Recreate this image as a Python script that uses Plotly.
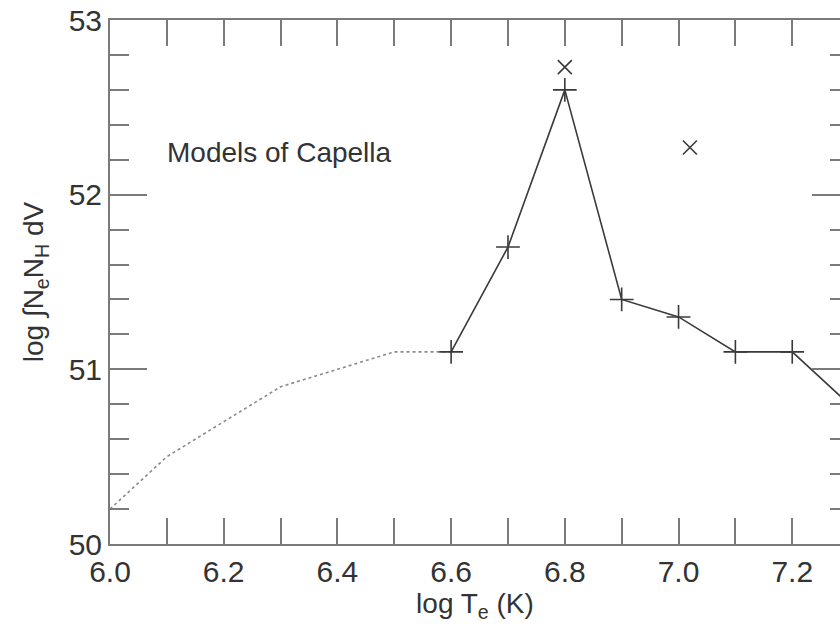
import plotly.graph_objects as go

# Data
model_T = [6.6, 6.7, 6.8, 6.9, 7.0, 7.1, 7.2, 7.3]
model_EM = [51.1, 51.7, 52.6, 51.4, 51.3, 51.1, 51.1, 50.8]
low_T = [6.0, 6.1, 6.2, 6.3, 6.4, 6.5, 6.6]
low_EM = [50.2, 50.5, 50.7, 50.9, 51.0, 51.1, 51.1]
capella_T = [6.8, 7.02]
capella_EM = [52.73, 52.27]
x_tickvals = [6.0, 6.2, 6.4, 6.6, 6.8, 7.0, 7.2]
x_ticktext = ["6.0", "6.2", "6.4", "6.6", "6.8", "7.0", "7.2"]
y_tickvals = [50, 51, 52, 53]

FONT = "Liberation Sans, Arial, Helvetica, sans-serif"
AX = "#7a7a7a"
TXT = "#333333"
LINE = "#3a3a3a"

fig = go.Figure()
fig.add_trace(go.Scatter(x=low_T, y=low_EM, mode="lines",
                         line=dict(color="#8a8a8a", width=1.6, dash="dot"),
                         showlegend=False, hoverinfo="skip"))
fig.add_trace(go.Scatter(x=model_T, y=model_EM, mode="lines+markers",
                         line=dict(color=LINE, width=1.6),
                         marker=dict(symbol="cross-thin", size=17,
                                     line=dict(color=LINE, width=1.6)),
                         showlegend=False))
fig.add_trace(go.Scatter(x=capella_T, y=capella_EM, mode="markers",
                         marker=dict(symbol="x-thin", size=14,
                                     line=dict(color=LINE, width=1.6)),
                         showlegend=False))
# helper empty trace to create right-side tick axis
fig.add_trace(go.Scatter(x=[], y=[], yaxis="y2", showlegend=False))

fig.add_annotation(text="Models of Capella", x=6.097, y=52.24,
                   xref="x", yref="y", xanchor="left", yanchor="middle",
                   showarrow=False, font=dict(family=FONT, size=28, color=TXT))

fig.update_layout(
    width=840, height=638,
    margin=dict(l=110, r=0, t=20, b=94),
    paper_bgcolor="white", plot_bgcolor="white",
    font=dict(family=FONT, size=30, color=TXT),
    xaxis=dict(range=[6.0, 7.284], tickvals=x_tickvals, ticktext=x_ticktext,
               ticks="inside", ticklen=26, tickwidth=2, tickcolor=AX,
               minor=dict(dtick=0.1, tick0=6.0, ticks="inside", ticklen=26,
                          tickwidth=2, tickcolor=AX),
               showline=True, linecolor=AX, linewidth=2, mirror="ticks",
               showgrid=False, zeroline=False,
               tickfont=dict(size=30, color=TXT),
               title=dict(text="log T<sub>e</sub> (K)", font=dict(size=28, color=TXT),
                          standoff=2)),
    yaxis=dict(range=[50, 53], tickvals=y_tickvals,
               ticks="inside", ticklen=37, tickwidth=2, tickcolor=AX,
               minor=dict(dtick=0.2, tick0=50, ticks="inside", ticklen=19,
                          tickwidth=2, tickcolor=AX),
               showline=True, linecolor=AX, linewidth=2,
               showgrid=False, zeroline=False,
               tickfont=dict(size=30, color=TXT),
               title=dict(text="log \u222bN<sub>e</sub>N<sub>H</sub> dV",
                          font=dict(size=28, color=TXT), standoff=17)),
    yaxis2=dict(range=[50, 53], overlaying="y", side="right",
                tickvals=y_tickvals, showticklabels=False,
                ticks="inside", ticklen=28, tickwidth=2, tickcolor=AX,
                minor=dict(dtick=0.2, tick0=50, ticks="inside", ticklen=10,
                           tickwidth=2, tickcolor=AX),
                showline=False, showgrid=False, zeroline=False),
)

fig.write_html("out.html")
